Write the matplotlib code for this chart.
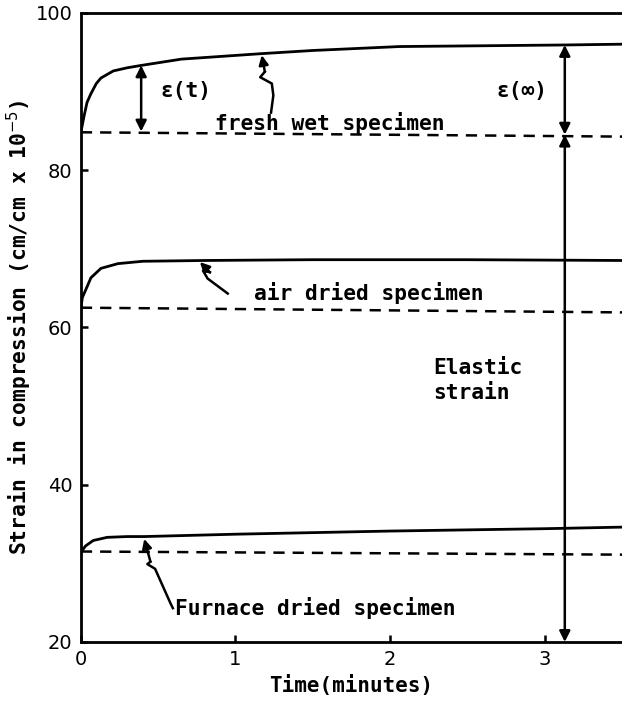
import matplotlib
matplotlib.use("Agg")
import matplotlib.pyplot as plt

# time in minutes, strain in cm/cm x 1e-5
fresh_t = [0, 0.02, 0.04, 0.065, 0.1, 0.13, 0.21, 0.3, 0.39, 0.65, 1.17, 1.5, 2.06, 2.6, 3.13, 3.5]
fresh = [84.8, 86.8, 88.6, 89.7, 91.0, 91.7, 92.6, 93.0, 93.3, 94.1, 94.8, 95.2, 95.7, 95.8, 95.9, 96.0]

air_t = [0, 0.01, 0.03, 0.065, 0.13, 0.24, 0.4, 0.8, 1.5, 2.5, 3.5]
air = [62.5, 63.8, 64.7, 66.3, 67.5, 68.1, 68.4, 68.5, 68.6, 68.6, 68.5]

furnace_t = [0, 0.03, 0.08, 0.17, 0.3, 0.41, 1.0, 2.0, 3.0, 3.5]
furnace = [31.4, 32.2, 32.9, 33.3, 33.4, 33.4, 33.7, 34.1, 34.4, 34.6]

base_t = [0, 3.5]
fresh_base = [84.8, 84.25]
air_base = [62.5, 61.9]
furnace_base = [31.5, 31.1]

mono = "DejaVu Sans Mono"

fig = plt.figure(figsize=(6.22, 7.07), dpi=100)
ax = fig.add_axes([0.130, 0.092, 0.870, 0.890])

for t, y, b in [(fresh_t, fresh, fresh_base), (air_t, air, air_base),
                (furnace_t, furnace, furnace_base)]:
    ax.plot(t, y, color="black", lw=2.0, solid_capstyle="round")
    ax.plot(base_t, b, color="black", lw=1.8, dashes=(4.5, 3.2))

ax.set_xlim(0, 3.5)
ax.set_ylim(20, 100)
ax.set_xticks([0, 1, 2, 3])
ax.set_yticks([20, 40, 60, 80, 100])
ax.tick_params(direction="in", length=5, width=1.8, labelsize=14, pad=6)
for lab in ax.get_xticklabels() + ax.get_yticklabels():
    lab.set_fontfamily("DejaVu Sans")
for s in ["left", "bottom", "top"]:
    ax.spines[s].set_linewidth(2.0)
ax.spines["right"].set_visible(False)

ax.set_xlabel("Time(minutes)", fontfamily=mono, fontsize=15, fontweight="bold", labelpad=4)
ax.set_ylabel("Strain in compression (cm/cm x 10$^{-5}$)", fontfamily=mono, fontsize=15.3,
              fontweight="bold", labelpad=1)

txt = dict(fontfamily=mono, fontsize=15.3, fontweight="bold", color="black")
ax.text(0.87, 86.0, "fresh wet specimen", ha="left", va="center", **txt)
ax.text(1.12, 64.4, "air dried specimen", ha="left", va="center", **txt)
ax.text(0.61, 24.3, "Furnace dried specimen", ha="left", va="center", **txt)
ax.text(2.28, 54.8, "Elastic", ha="left", va="center", **txt)
ax.text(2.28, 51.6, "strain", ha="left", va="center", **txt)
ax.text(0.68, 90.1, "\u03b5(t)", ha="center", va="center", **txt)
ax.text(2.85, 90.1, "\u03b5(\u221e)", ha="center", va="center", **txt)

arr2 = dict(arrowstyle="<|-|>", lw=1.8, color="black", mutation_scale=16, shrinkA=0, shrinkB=0)
ax.annotate("", xy=(0.39, 84.9), xytext=(0.39, 93.3), arrowprops=arr2)
ax.annotate("", xy=(3.13, 84.5), xytext=(3.13, 95.9), arrowprops=arr2)
ax.annotate("", xy=(3.13, 20.0), xytext=(3.13, 84.5), arrowprops=arr2, annotation_clip=False)

# wavy leader arrows
leaders = [
    ([1.23, 1.245, 1.235, 1.16, 1.19, 1.17], [87.3, 89.5, 91.0, 91.8, 92.5, 94.6]),
    ([0.95, 0.82, 0.79, 0.835, 0.77], [64.3, 66.2, 67.2, 67.0, 68.3]),
    ([0.595, 0.58, 0.48, 0.43, 0.45, 0.41], [24.3, 24.9, 29.3, 29.9, 30.2, 33.1]),
]
for lx, ly in leaders:
    ax.plot(lx[:-1], ly[:-1], color="black", lw=1.8, solid_joinstyle="round")
    ax.annotate("", xy=(lx[-1], ly[-1]), xytext=(lx[-2], ly[-2]),
                arrowprops=dict(arrowstyle="-|>", lw=1.8, color="black",
                                mutation_scale=14, shrinkA=0, shrinkB=0))

fig.savefig("out.png", dpi=100)
